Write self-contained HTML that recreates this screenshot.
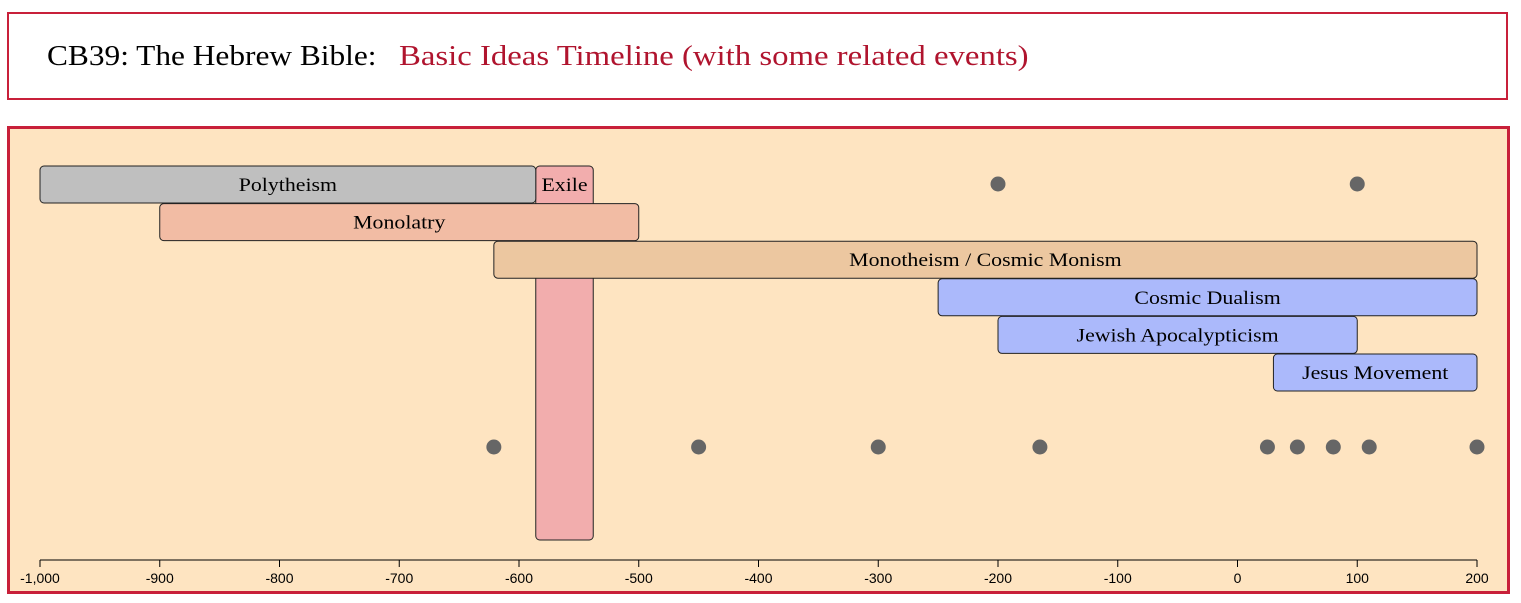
<!DOCTYPE html>
<html><head><meta charset="utf-8"><style>
body{margin:0;width:1521px;height:603px;background:#fff;overflow:hidden;font-family:"Liberation Serif",serif}
#hdr{position:absolute;left:7px;top:12px;width:1497px;height:84px;border:2px solid #c8203a;background:#fff}
#hdr span{position:absolute;top:27px;font-size:28px;transform-origin:0 50%;white-space:nowrap}
#panel{position:absolute;left:7px;top:126px;width:1497px;height:462px;border:3px solid #c8203a;background:#fee4c1}
</style></head><body>
<div id="hdr">
<span style="left:38px;color:#000;transform:scaleX(1.12)">CB39: The Hebrew Bible:</span>
<span style="left:390px;color:#b0142e;transform:scaleX(1.17)">Basic Ideas Timeline (with some related events)</span>
</div>
<div id="panel"></div>
<svg id="chart" width="1521" height="603" style="position:absolute;left:0;top:0"></svg>
<script>
const labels=["Polytheism","Exile","Monolatry","Monotheism / Cosmic Monism","Cosmic Dualism","Jewish Apocalypticism","Jesus Movement"];
const starts=[-1000,-586,-900,-621,-250,-200,30];
const ends=[-586,-538,-500,200,200,100,200];
const rows=[0,0,1,2,3,4,5];
const colors=["#bfbfbf","#f2adad","#f2bca4","#ecc7a0","#abb9fb","#abb9fb","#abb9fb"];
const topDots=[-200,100];
const bottomDots=[-621,-450,-300,-165,25,50,80,110,200];
const ticks=[-1000,-900,-800,-700,-600,-500,-400,-300,-200,-100,0,100,200];
const tickLabels=["-1,000","-900","-800","-700","-600","-500","-400","-300","-200","-100","0","100","200"];
const NS="http://www.w3.org/2000/svg";
const svg=document.getElementById('chart');
const x=v=>40+(v+1000)*(1437/1200);
const rowY=r=>166+r*37.6;
function mk(t,a){const e=document.createElementNS(NS,t);for(const k in a)e.setAttribute(k,a[k]);svg.appendChild(e);return e;}
const band=mk('rect',{x:x(-586),y:166,width:x(-538)-x(-586),height:540-166,rx:4,fill:"#f2adad",stroke:"#222","stroke-width":1});


for(let i=0;i<labels.length;i++){
 if(i===1)continue;
 const r=mk('rect',{x:x(starts[i]),y:rowY(rows[i]),width:x(ends[i])-x(starts[i]),height:37,rx:4,fill:colors[i],stroke:"#222","stroke-width":1});
 
 
}
for(let i=0;i<labels.length;i++){
 const t=mk('text',{x:(x(starts[i])+x(ends[i]))/2,y:rowY(rows[i])+25,"text-anchor":"middle","font-size":"19","font-family":"Liberation Serif, serif",fill:"#000"});
 t.textContent=labels[i];
 
 
 const w=t.getComputedTextLength();
 if(w>0){t.setAttribute('textLength',(w*1.15).toFixed(1));t.setAttribute('lengthAdjust','spacingAndGlyphs');}
}
topDots.forEach(v=>{const c=mk('circle',{cx:x(v),cy:184,r:7.5,fill:"#666"});
 
 });
bottomDots.forEach(v=>{const c=mk('circle',{cx:x(v),cy:447,r:7.5,fill:"#666"});
 
 });
const ax=mk('line',{x1:x(-1000),x2:x(200),y1:560,y2:560,stroke:"#000","stroke-width":1});


ticks.forEach((v,i)=>{
 const l=mk('line',{x1:x(v),x2:x(v),y1:560,y2:567,stroke:"#000"});
 
 
 const t=mk('text',{x:x(v),y:583,"text-anchor":"middle","font-size":"14","font-family":"Liberation Sans, sans-serif"});
 t.textContent=tickLabels[i];
 
 
});
</script>
</body></html>
